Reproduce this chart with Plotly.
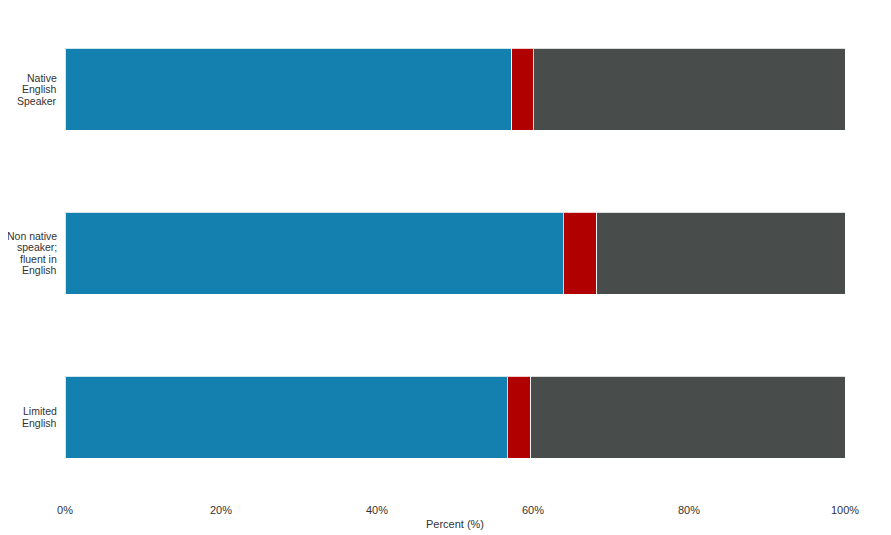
import plotly.graph_objects as go

groups = ["Native<br>English<br>Speaker",
          "Non native<br>speaker;<br>fluent in<br>English",
          "Limited<br>English"]

# percent shares per group
seg_a = [57.3, 63.9, 56.7]
seg_b = [2.7, 4.3, 3.0]
seg_c = [40.0, 31.8, 40.3]

tick_vals = [0, 20, 40, 60, 80, 100]
tick_text = ["0%", "20%", "40%", "60%", "80%", "100%"]

colors = ["#1380b0", "#b00000", "#484d4b"]
txt = "#333333"

fig = go.Figure()
for vals, col in zip([seg_a, seg_b, seg_c], colors):
    fig.add_trace(go.Bar(
        y=groups, x=vals, orientation="h",
        marker=dict(color=col, line=dict(color="rgba(255,255,255,0.8)", width=1)),
        width=0.5,
        hoverinfo="x+y",
    ))

# category labels drawn line by line so the line spacing stays tight
line_h = 11.5
for g in groups:
    parts = g.split("<br>")
    n = len(parts)
    for i, p in enumerate(parts):
        fig.add_annotation(
            x=0, xref="paper", y=g, yref="y",
            text=p, showarrow=False,
            xanchor="right", yanchor="middle", xshift=-6,
            yshift=((n - 1) / 2 - i) * line_h,
            font=dict(size=10.5, color=txt),
        )

fig.update_layout(
    barmode="stack",
    width=891, height=535,
    margin=dict(l=57, r=54, t=0, b=41),
    plot_bgcolor="white", paper_bgcolor="white",
    showlegend=False,
    font=dict(family="Liberation Sans, Arial, sans-serif", size=11, color=txt),
    xaxis=dict(range=[0, 100], tickvals=tick_vals, ticktext=tick_text,
               showgrid=False, zeroline=False, showline=False, automargin=False,
               tickfont=dict(color=txt),
               title=dict(text="Percent (%)", standoff=5, font=dict(size=11, color=txt))),
    yaxis=dict(categoryorder="array", categoryarray=groups[::-1],
               range=[-0.518, 2.494], showgrid=False, zeroline=False, automargin=False,
               showticklabels=False, ticks=""),
)

fig.write_html("out.html")
